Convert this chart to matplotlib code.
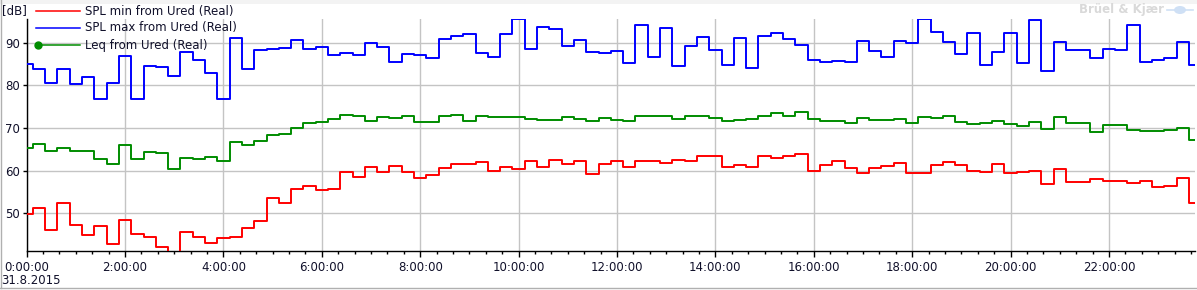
import numpy as np
import matplotlib
matplotlib.use("Agg")
import matplotlib.pyplot as plt
from matplotlib.ticker import MultipleLocator, FuncFormatter
from matplotlib.lines import Line2D
from matplotlib.patches import Rectangle, Ellipse

# ---- data (15-minute intervals, 31.8.2015, hours since 0:00) ----
step_hours = 0.25
spl_max = [85.1, 83.9, 80.6, 83.9, 80.3, 82.0, 76.7, 80.6, 86.9, 76.8,
           84.5, 84.4, 82.2, 87.9, 85.9, 83.0, 76.8, 91.1, 83.9, 88.4,
           88.6, 88.8, 90.7, 88.6, 89.1, 87.2, 87.6, 87.2, 90.0, 89.1,
           85.6, 87.4, 87.2, 86.5, 90.9, 91.6, 92.0, 87.7, 86.7, 92.0,
           95.6, 88.6, 93.8, 93.3, 89.3, 90.7, 87.9, 87.6, 88.1, 85.3,
           94.2, 86.7, 93.5, 84.6, 89.3, 91.4, 88.4, 84.8, 91.1, 84.1,
           91.6, 92.4, 90.9, 89.5, 86.0, 85.6, 85.8, 85.4, 90.5, 88.1,
           86.7, 90.5, 90.0, 95.6, 92.6, 90.2, 87.4, 92.4, 84.8, 87.9,
           92.4, 85.3, 95.4, 83.4, 90.2, 88.4, 88.4, 86.5, 88.6, 88.4,
           94.2, 85.5, 86.0, 86.5, 90.2, 84.8]
leq = [65.2, 66.2, 64.6, 65.2, 64.6, 64.6, 62.7, 61.5, 66.0, 62.7,
       64.4, 64.1, 60.4, 62.9, 62.7, 63.2, 62.2, 66.7, 66.0, 66.9,
       68.4, 68.6, 70.0, 71.2, 71.4, 72.1, 73.1, 72.7, 71.6, 72.6,
       72.3, 72.8, 71.4, 71.4, 72.8, 73.1, 71.6, 72.8, 72.6, 72.6,
       72.6, 72.1, 71.9, 71.9, 72.6, 72.1, 71.6, 72.4, 71.9, 71.6,
       72.9, 72.9, 72.9, 72.1, 72.9, 72.9, 72.4, 71.6, 71.9, 72.1,
       72.7, 73.5, 72.8, 73.8, 72.1, 71.6, 71.6, 71.2, 72.4, 71.9,
       71.9, 72.1, 71.2, 72.6, 72.4, 72.8, 71.4, 70.9, 71.2, 71.6,
       70.9, 70.5, 71.4, 69.8, 72.6, 71.2, 71.2, 69.1, 70.7, 70.7,
       69.5, 69.3, 69.3, 69.5, 70.0, 67.2]
spl_min = [49.8, 51.2, 46.0, 52.4, 47.2, 44.8, 46.9, 42.7, 48.4, 45.1,
           44.4, 42.1, 40.5, 45.5, 44.4, 42.9, 44.1, 44.4, 46.5, 48.1,
           53.5, 52.4, 55.6, 56.4, 55.4, 55.6, 59.7, 58.5, 60.8, 59.6,
           61.1, 59.6, 58.2, 58.9, 60.6, 61.5, 61.5, 62.0, 59.9, 60.8,
           60.4, 62.2, 60.8, 62.5, 61.5, 62.2, 59.2, 61.5, 62.2, 60.8,
           62.2, 62.2, 61.8, 62.5, 62.2, 63.4, 63.4, 60.8, 61.3, 60.8,
           63.4, 62.9, 63.4, 63.9, 59.9, 61.3, 62.2, 60.6, 59.4, 60.6,
           61.1, 61.8, 59.4, 59.4, 61.3, 62.0, 61.3, 59.9, 59.6, 61.5,
           59.4, 59.6, 59.9, 56.8, 60.4, 57.3, 57.3, 58.0, 57.5, 57.5,
           57.1, 57.5, 56.1, 56.4, 58.2, 52.3]
series_labels = ["SPL min from Ured (Real)", "SPL max from Ured (Real)",
                 "Leq from Ured (Real)"]
y_ticks = [50, 60, 70, 80, 90]
date_label = "31.8.2015"
unit_label = "[dB]"

hours = np.arange(len(spl_max)) * step_hours

W, H = 1197, 290
fig = plt.figure(figsize=(W / 100, H / 100), dpi=100)
fig.patch.set_facecolor("white")

x0, x1 = 26.7, 1195.0
y_top, y_bot = 18.5, 251.0
ax = fig.add_axes([x0 / W, (H - y_bot) / H, (x1 - x0) / W, (y_bot - y_top) / H])

RED, BLUE, GREEN = "#ff0000", "#0000ff", "#008c00"
lw = 1.4
ax.step(hours, spl_min, where="mid", color=RED, lw=lw, zorder=3)
ax.step(hours, spl_max, where="mid", color=BLUE, lw=lw, zorder=3)
ax.step(hours, leq, where="mid", color=GREEN, lw=lw, zorder=3)

ax.set_xlim(0, 23.75)
ax.set_ylim(41.1, 95.7)

ax.set_yticks(y_ticks)
ax.xaxis.set_major_locator(MultipleLocator(2))
ax.xaxis.set_minor_locator(MultipleLocator(1 / 3))
ax.xaxis.set_major_formatter(FuncFormatter(lambda v, p: f"{int(round(v))}:00:00"))

txt_color = "#10102a"
ax.tick_params(axis="x", which="major", length=4, width=1, color="black",
               labelsize=8.5, labelcolor=txt_color, pad=3)
ax.tick_params(axis="x", which="minor", length=2.3, width=1, color="black")
ax.tick_params(axis="y", which="major", length=3, width=1, color="black",
               labelsize=8.5, labelcolor=txt_color, pad=2)

ax.grid(True, which="major", color="#c4c4c4", lw=1.0, zorder=0)
ax.set_axisbelow(True)
for s in ["top", "right"]:
    ax.spines[s].set_visible(False)
for s in ["left", "bottom"]:
    ax.spines[s].set_color("black")
    ax.spines[s].set_linewidth(1.0)
ax.patch.set_alpha(0)


def fx(px):
    return px / W


def fy(py):
    return 1 - py / H


# date label under first tick
fig.text(fx(1), fy(280), date_label, fontsize=8.5, color=txt_color,
         ha="left", va="center")
# unit label
fig.text(fx(2), fy(11), unit_label, fontsize=8.5, color=txt_color,
         ha="left", va="center")

# legend (manual, top-left, no frame)
leg_rows = [(11, RED, False), (28, BLUE, False), (45, GREEN, True)]
for (py, col, mark), lab in zip(leg_rows, series_labels):
    fig.add_artist(Line2D([fx(36), fx(80)], [fy(py), fy(py)], color=col,
                          lw=1.1, transform=fig.transFigure))
    if mark:
        fig.add_artist(Line2D([fx(38)], [fy(py)], color=col, marker="o",
                              markersize=5, transform=fig.transFigure))
    fig.text(fx(85), fy(py), lab, fontsize=8.5, color=txt_color,
             ha="left", va="center")

# watermark
fig.text(fx(1164), fy(10), "Brüel & Kjær", fontsize=8.5, fontweight="bold",
         color="#d9d9d9", ha="right", va="center")
fig.add_artist(Ellipse((fx(1180), fy(10)), 12 / W, 8 / H,
                       transform=fig.transFigure, facecolor="#cfe0f5",
                       edgecolor="none"))
fig.add_artist(Line2D([fx(1167), fx(1193)], [fy(10), fy(10)], color="#cfe0f5",
                      lw=1.2, transform=fig.transFigure))

# frame lines of the window
fig.add_artist(Rectangle((0, fy(4)), 1, 4 / H, transform=fig.transFigure,
                         facecolor="#f3f3f3", edgecolor="none", zorder=-1))
fig.add_artist(Line2D([fx(0.5), fx(0.5)], [fy(287.5), 1], color="#b0b0b0",
                      lw=1, transform=fig.transFigure))
fig.add_artist(Line2D([0, 1], [fy(287.5), fy(287.5)], color="#b0b0b0",
                      lw=1, transform=fig.transFigure))

fig.savefig("out.png", dpi=100, facecolor="white")
